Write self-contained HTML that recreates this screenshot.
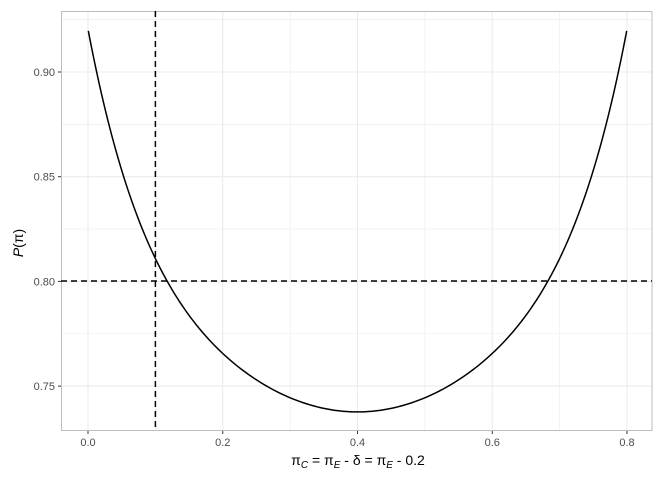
<!DOCTYPE html>
<html><head><style>body{margin:0;background:#fff}svg{display:block}</style></head>
<body>
<svg id="s" width="672" height="480" xmlns="http://www.w3.org/2000/svg" font-family="Liberation Sans, DejaVu Sans, sans-serif">
<rect x="0" y="0" width="672" height="480" fill="#fff"/>
<g id="grid"></g>
<rect x="61.5" y="11.5" width="590.5" height="419" fill="none" stroke="#bdbdbd" stroke-width="1"/>
<line x1="155.4" y1="11" x2="155.4" y2="431" stroke="#000" stroke-width="1.5" stroke-dasharray="6,4"/>
<line x1="61" y1="281" x2="652" y2="281" stroke="#000" stroke-width="1.5" stroke-dasharray="6,4"/>
<path id="c" fill="none" stroke="#000" stroke-width="1.5"/>
<g id="ticks" font-size="11" fill="#4d4d4d"></g>
<text x="358" y="465" font-size="14" text-anchor="middle" fill="#000">π<tspan font-size="10" dy="3" font-style="italic">C</tspan><tspan dy="-3"> = π</tspan><tspan font-size="10" dy="3" font-style="italic">E</tspan><tspan dy="-3"> - δ = π</tspan><tspan font-size="10" dy="3" font-style="italic">E</tspan><tspan dy="-3"> - 0.2</tspan></text>
<text transform="translate(23,243) rotate(-90)" font-size="14" text-anchor="middle" fill="#000"><tspan font-style="italic">P</tspan>(π)</text>
</svg>
<script>
var X=function(v){return 88+v*673.75},Y=function(v){return 72+(0.9-v)*2094};
var g='',t='';
for(var i=0;i<=8;i++){var x=X(i/10);g+='<line x1="'+x+'" y1="11" x2="'+x+'" y2="431" stroke="#ebebeb" stroke-width="'+(i%2?0.6:1.1)+'"/>';}
[0.75,0.775,0.8,0.825,0.85,0.875,0.9,0.925].forEach(function(v,i){var y=Y(v);g+='<line x1="61" y1="'+y+'" x2="652" y2="'+y+'" stroke="#ebebeb" stroke-width="'+(i%2?0.6:1.1)+'"/>';});
['0.0','0.2','0.4','0.6','0.8'].forEach(function(s,i){var x=X(i*0.2);t+='<line x1="'+x+'" y1="431" x2="'+x+'" y2="434" stroke="#333"/><text x="'+x+'" y="446" text-anchor="middle">'+s+'</text>';});
['0.75','0.80','0.85','0.90'].forEach(function(s){var y=Y(+s);t+='<line x1="58" y1="'+y+'" x2="61" y2="'+y+'" stroke="#333"/><text x="55" y="'+(y+4)+'" text-anchor="end">'+s+'</text>';});
document.getElementById('grid').innerHTML=g;document.getElementById('ticks').innerHTML=t;
var L=[[88.3,30.7,20],[107.7,124.3,1],[122.3,176,1],[141.7,228,1],[169.3,281,3],[200,333.3,1],[220,350,1],[255,386,1],[290,398.3,1],[323.8,408.3,1],[357.5,411.7,20]];
var K=4,A=[],B=[];for(var i=0;i<K;i++){A.push([0,0,0,0]);B.push(0);}
L.forEach(function(p){var w=Math.pow((p[0]-357.5)/270,2),f=[1,w,w*w,w*w*w];for(var i=0;i<K;i++){B[i]+=p[2]*f[i]*p[1];for(var j=0;j<K;j++)A[i][j]+=p[2]*f[i]*f[j];}});
for(var i=0;i<K;i++){for(var r=i+1;r<K;r++){var q=A[r][i]/A[i][i];for(var j=i;j<K;j++)A[r][j]-=q*A[i][j];B[r]-=q*B[i];}}
var c=[0,0,0,0];for(var i=K-1;i>=0;i--){var sm=B[i];for(var j=i+1;j<K;j++)sm-=A[i][j]*c[j];c[i]=sm/A[i][i];}
var d='';for(var k=0;k<=200;k++){var x=88.3+k*(626.7-88.3)/200,w=Math.pow((x-357.5)/270,2),y=c[0]+c[1]*w+c[2]*w*w+c[3]*w*w*w;d+=(k?'L':'M')+x.toFixed(2)+','+y.toFixed(2);}
document.getElementById('c').setAttribute('d',d);
</script>
</body></html>
